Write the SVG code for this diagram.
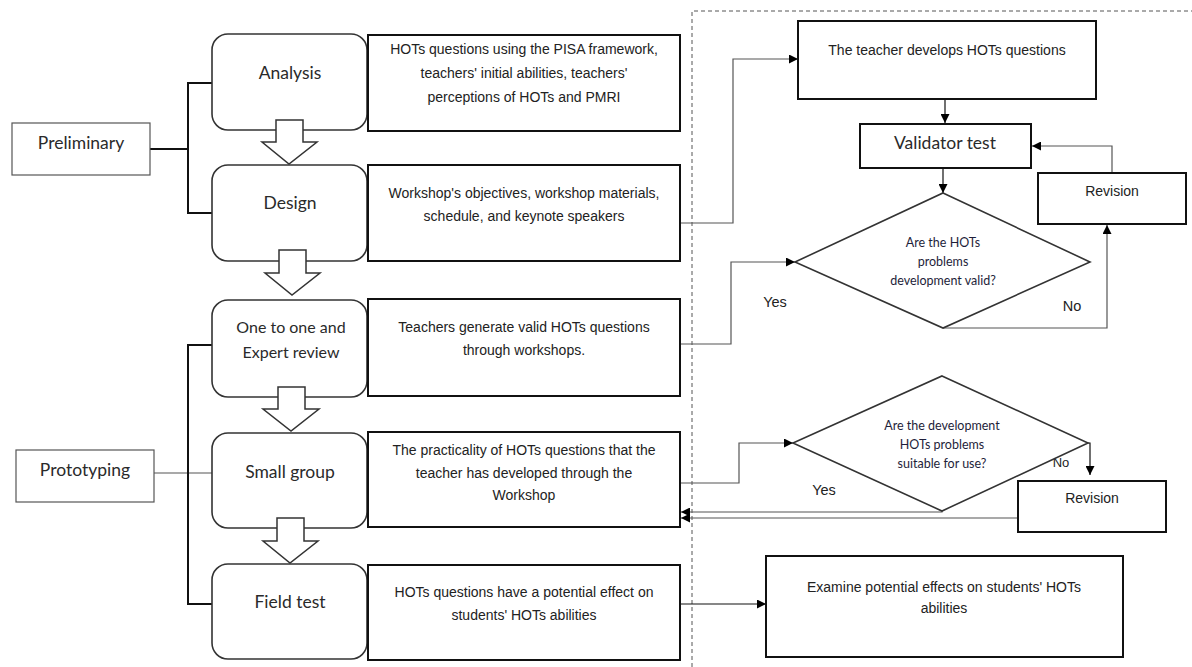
<svg xmlns="http://www.w3.org/2000/svg" width="1192" height="667" viewBox="0 0 1192 667">
<defs>
<marker id="ah" viewBox="0 0 10 10" refX="10" refY="5" markerWidth="10" markerHeight="9" markerUnits="userSpaceOnUse" orient="auto">
<path d="M0,0 L10,5 L0,10 z" fill="#000"/>
</marker>
<style>
.stage{fill:#fff;stroke:#333;stroke-width:1.6}
.phase{fill:#fff;stroke:#555;stroke-width:1.2}
.out{fill:#fff;stroke:#111;stroke-width:2}
.blk{fill:#fff;stroke:#333;stroke-width:1.5}
.dia{fill:#fff;stroke:#333;stroke-width:1.6}
.lbl{font-family:Lato,"Liberation Sans",sans-serif;font-size:17.5px;fill:#2a2a2a;text-anchor:middle}
.sm{font-size:16px}
.txt{font-family:"Liberation Sans",Arial,sans-serif;font-size:14px;fill:#222;text-anchor:middle}
.yn{font-size:14.5px}
.dtx{font-family:Lato,"Liberation Sans",sans-serif;font-size:12.5px;fill:#1e1e3a;text-anchor:middle}
.con{fill:none;stroke:#555;stroke-width:1.2}
.conk{fill:none;stroke:#111;stroke-width:1.2}
.brk{fill:none;stroke:#111;stroke-width:2}
</style>
</defs>
<rect width="1192" height="667" fill="#fff"/>
<path d="M692,667 V11 H1192" fill="none" stroke="#555" stroke-width="1" stroke-dasharray="4,3"/>

<g id="connectors">
<path class="brk" d="M150,149 H188 M213,83 H188 V213 H213"/>
<path class="con" d="M154,473 H213"/>
<path class="brk" d="M213,345 H188 V604 H213"/>
<path class="con" d="M680,223 H733 V59 H798" marker-end="url(#ah)"/>
<path class="conk" d="M945,99 V123" marker-end="url(#ah)"/>
<path class="conk" d="M943,168 V193" marker-end="url(#ah)"/>
<path class="con" d="M1112,173 V146 H1032" marker-end="url(#ah)"/>
<path class="con" d="M943,328 H1107 V225" marker-end="url(#ah)"/>
<path class="con" d="M680,344 H731 V262 H795" marker-end="url(#ah)"/>
<path class="con" d="M680,483 H739 V443 H793" marker-end="url(#ah)"/>
<path class="conk" d="M1088,443 H1090 V475" marker-end="url(#ah)"/>
<path class="con" d="M942,511 V512 H681" marker-end="url(#ah)"/>
<path class="con" d="M1018,518 H681" marker-end="url(#ah)"/>
<path class="conk" d="M680,604 H766" marker-end="url(#ah)"/>
<text class="txt yn" x="775" y="307">Yes</text>
<text class="txt yn" x="1072" y="311">No</text>
<text class="txt yn" x="824" y="495">Yes</text>
<text class="txt" x="1061" y="467" style="font-size:13px">No</text>
</g>

<g id="preliminary">
<rect class="phase" x="12" y="123" width="138" height="52"/>
<text class="lbl" x="81" y="149">Preliminary</text>
</g>
<g id="prototyping">
<rect class="phase" x="16" y="450" width="138" height="52"/>
<text class="lbl" x="85" y="476">Prototyping</text>
</g>

<g id="analysis">
<rect class="stage" x="212" y="34" width="155" height="96" rx="16"/>
<text class="lbl" x="290" y="79">Analysis</text>
</g>
<g id="design">
<rect class="stage" x="212" y="165" width="155" height="96" rx="16"/>
<text class="lbl" x="290" y="209">Design</text>
</g>
<g id="onetoone">
<rect class="stage" x="212" y="300" width="155" height="97" rx="16"/>
<text class="lbl sm" x="291" y="333">One to one and</text>
<text class="lbl sm" x="291" y="358">Expert review</text>
</g>
<g id="smallgroup">
<rect class="stage" x="212" y="433" width="155" height="95" rx="16"/>
<text class="lbl" x="290" y="478">Small group</text>
</g>
<g id="fieldtest">
<rect class="stage" x="212" y="564" width="155" height="95" rx="16"/>
<text class="lbl" x="290" y="608">Field test</text>
</g>

<g id="blockarrows">
<polygon class="blk" points="276,120 303,120 303,142 317,142 289,164 262,142 276,142"/>
<polygon class="blk" points="279,250 306,250 306,273 320,273 292,295 265,273 279,273"/>
<polygon class="blk" points="278,387 305,387 305,409 319,409 291,431 263,409 278,409"/>
<polygon class="blk" points="277,518 304,518 304,541 318,541 290,563 263,541 277,541"/>
</g>

<g id="out-analysis">
<rect class="out" x="368" y="35" width="312" height="96"/>
<text class="txt" x="524" y="54">HOTs questions using the PISA framework,</text>
<text class="txt" x="524" y="78">teachers' initial abilities, teachers'</text>
<text class="txt" x="524" y="102">perceptions of HOTs and PMRI</text>
</g>
<g id="out-design">
<rect class="out" x="368" y="165" width="312" height="96"/>
<text class="txt" x="524" y="198">Workshop's objectives, workshop materials,</text>
<text class="txt" x="524" y="221">schedule, and keynote speakers</text>
</g>
<g id="out-onetoone">
<rect class="out" x="368" y="299" width="312" height="97"/>
<text class="txt" x="524" y="332">Teachers generate valid HOTs questions</text>
<text class="txt" x="524" y="355">through workshops.</text>
</g>
<g id="out-smallgroup">
<rect class="out" x="368" y="432" width="312" height="95"/>
<text class="txt" x="524" y="455">The practicality of HOTs questions that the</text>
<text class="txt" x="524" y="478">teacher has developed through the</text>
<text class="txt" x="524" y="500">Workshop</text>
</g>
<g id="out-fieldtest">
<rect class="out" x="368" y="565" width="312" height="95"/>
<text class="txt" x="524" y="597">HOTs questions have a potential effect on</text>
<text class="txt" x="524" y="620">students' HOTs abilities</text>
</g>

<g id="teacher-develops">
<rect class="out" x="798" y="21" width="298" height="78"/>
<text class="txt" x="947" y="55">The teacher develops HOTs questions</text>
</g>
<g id="validator">
<rect class="out" x="860" y="124" width="171" height="44"/>
<text class="lbl" x="945" y="149">Validator test</text>
</g>
<g id="decision1">
<polygon class="dia" points="943,193 1090,262 943,328 795,262"/>
<text class="dtx" x="943" y="247">Are the HOTs</text>
<text class="dtx" x="943" y="266">problems</text>
<text class="dtx" x="943" y="285">development valid?</text>
</g>
<g id="revision1">
<rect class="out" x="1038" y="173" width="148" height="51"/>
<text class="txt" x="1112" y="196">Revision</text>
</g>
<g id="decision2">
<polygon class="dia" points="942,376 1088,443 942,511 793,443"/>
<text class="dtx" x="942" y="430">Are the development</text>
<text class="dtx" x="942" y="449">HOTs problems</text>
<text class="dtx" x="942" y="468">suitable for use?</text>
</g>
<g id="revision2">
<rect class="out" x="1018" y="481" width="148" height="51"/>
<text class="txt" x="1092" y="503">Revision</text>
</g>
<g id="examine">
<rect class="out" x="766" y="556" width="357" height="101"/>
<text class="txt" x="944" y="592">Examine potential effects on students' HOTs</text>
<text class="txt" x="944" y="613">abilities</text>
</g>
</svg>
